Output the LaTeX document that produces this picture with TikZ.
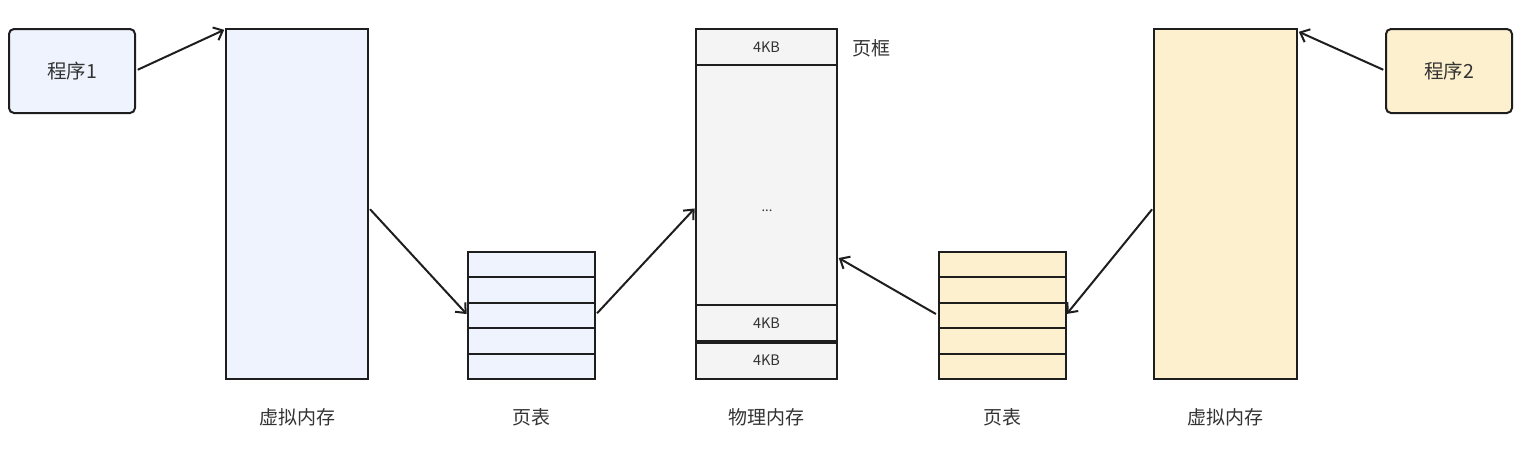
\documentclass[tikz,border=0pt]{standalone}
\usepackage{fontspec}
\setmainfont{Noto Sans CJK SC}
\usetikzlibrary{arrows.meta,calc}
\definecolor{bluefill}{HTML}{EEF3FD}
\definecolor{yellowfill}{HTML}{FDF0CE}
\definecolor{greyfill}{HTML}{F4F4F4}
\definecolor{edge}{HTML}{1E1E1E}
\definecolor{txt}{HTML}{333333}
\tikzset{
  box/.style={draw=edge, line width=2pt, inner sep=0pt, outer sep=0pt},
  prog/.style={box, rounded corners=5pt, minimum width=126pt, minimum height=84pt, font=\fontsize{19.5}{22}\selectfont, text=txt},
  row/.style={box, minimum width=127pt, minimum height=25.4pt},
  frame/.style={box, fill=greyfill, minimum width=141pt, font=\fontsize{14.5}{16}\selectfont, text=txt},
  lab/.style={font=\fontsize{19}{22}\selectfont, text=txt},
  link/.style={draw=edge, line width=2pt, -{Straight Barb[length=8pt,width=14pt,line width=2pt]}, shorten <=3pt, shorten >=2pt}
}
\begin{document}
\begin{tikzpicture}[x=1pt,y=-1pt]
\useasboundingbox (0,0) rectangle (1527,456);
% programs
\node[prog, fill=bluefill] (p1) at (72,71) {程序1};
\node[prog, fill=yellowfill] (p2) at (1449,71) {程序2};
% virtual memories
\node[box, fill=bluefill, minimum width=142pt, minimum height=350pt] (vm1) at (297,204) {};
\node[box, fill=yellowfill, minimum width=143pt, minimum height=350pt] (vm2) at (1225.5,204) {};
% page tables
\foreach \i in {1,...,5}{
  \node[row, fill=bluefill] (pa\i) at (531.5,{252+(\i-0.5)*25.4}) {};
  \node[row, fill=yellowfill] (pb\i) at (1002,{252+(\i-0.5)*25.4}) {};
}
% physical memory
\node[frame, minimum height=36pt] (f1) at (766.5,47) {4KB};
\node[frame, minimum height=240pt] (fm) at (766.5,185) {};
\node[frame, minimum height=37pt] (f2) at (766.5,323.5) {4KB};
\node[frame, minimum height=37pt] (f3) at (766.5,360.5) {4KB};
\draw[draw=edge, line width=3.5pt] (f3.north west) -- (f3.north east);
\node[box, draw=edge, fill=none, minimum width=141pt, minimum height=350pt] (phys) at (766.5,204) {};
\node[text=txt, font=\fontsize{13}{14}\selectfont] (dots) at (767,211) {...};
\node[lab, anchor=west] (pf) at (849,48) {页框};
% labels
\node[lab] (l1) at (297,417) {虚拟内存};
\node[lab] (l2) at (531.5,417) {页表};
\node[lab] (l3) at (766.5,417) {物理内存};
\node[lab] (l4) at (1002,417) {页表};
\node[lab] (l5) at (1225.5,417) {虚拟内存};
% connectors
\coordinate (pin) at ($(phys.east)+(0,53)$);
\draw[link] (p1.east) -- (vm1.north west);
\draw[link] ($(vm1.east)+(0,3)$) -- (pa3.west);
\draw[link] (pa3.east) -- ($(phys.west)+(0,3)$);
\draw[link] (pb3.west) -- (pin);
\draw[link] ($(vm2.west)+(0,3)$) -- (pb3.east);
\draw[link] (p2.west) -- ($(vm2.north east)+(0,2)$);
\end{tikzpicture}
\end{document}
